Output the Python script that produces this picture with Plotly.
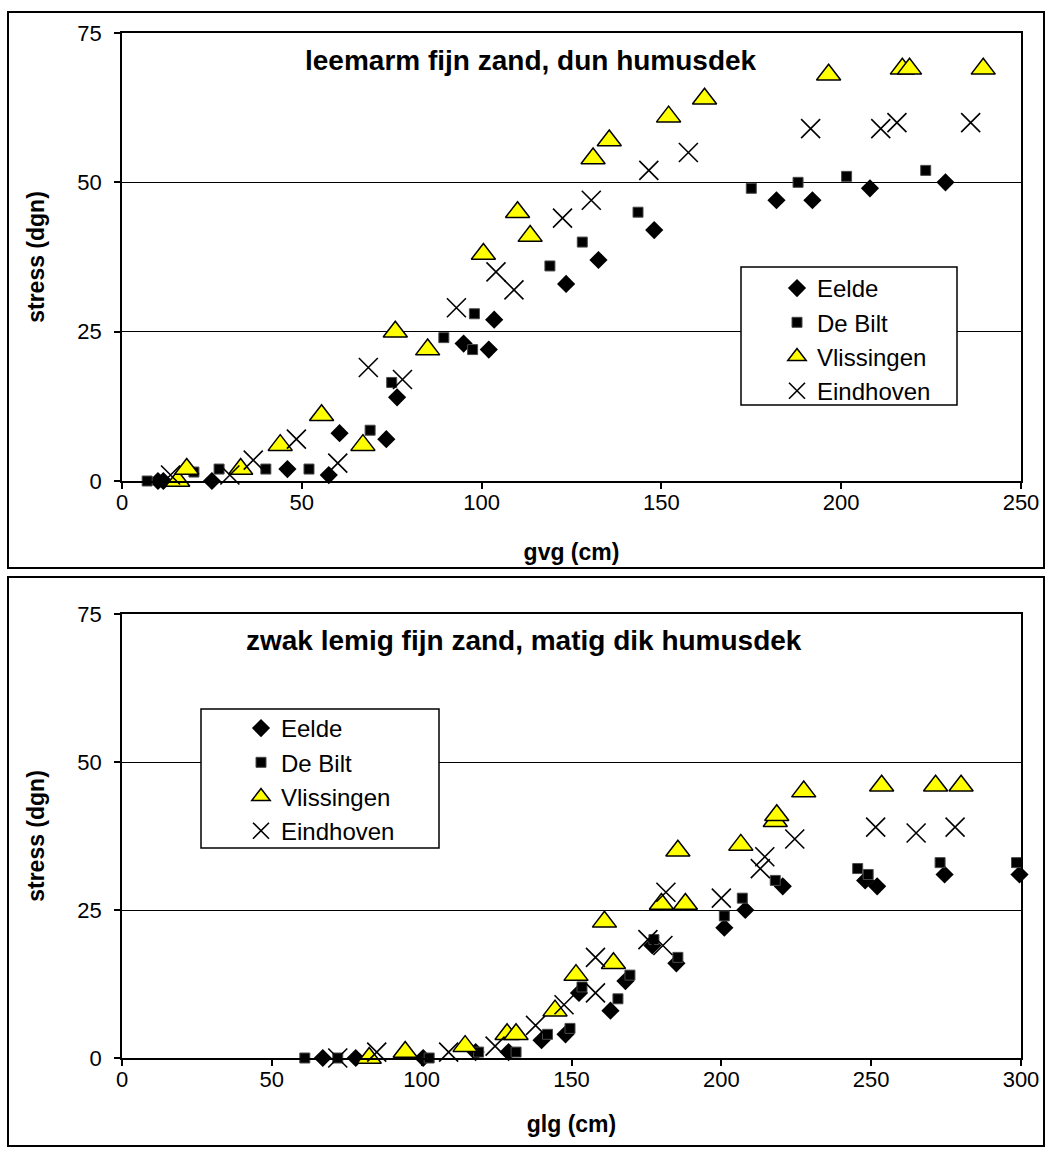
import plotly.graph_objects as go

# ---------------- data: top panel (gvg) ----------------
top_eelde_x = [10, 11.5, 25, 46, 57.5, 60.5, 73.5, 76.5, 95, 102, 103.5, 123.5, 132.5, 148, 182, 192, 208, 229]
top_eelde_y = [0, 0, 0, 2, 1, 8, 7, 14, 23, 22, 27, 33, 37, 42, 47, 47, 49, 50]

top_debilt_x = [7, 20, 27, 40, 52, 69, 75, 89.5, 97.5, 98, 119, 128, 143.5, 175, 188, 201.5, 223.5]
top_debilt_y = [0, 1.5, 2, 2, 2, 8.5, 16.5, 24, 22, 28, 36, 40, 45, 49, 50, 51, 52]

top_vliss_x = [15.5, 18, 33, 44, 55.5, 67, 76, 85, 100.5, 110, 113.5, 131, 135.5, 152, 162, 196.5, 217, 219, 239.5]
top_vliss_y = [0, 2, 2, 6, 11, 6, 25, 22, 38, 45, 41, 54, 57, 61, 64, 68, 69, 69, 69]

top_eind_x = [13.5, 30, 36.5, 48.5, 60, 68.5, 78, 93, 104, 109, 122.5, 130.5, 146.5, 157.5, 191.5, 211, 215.5, 236]
top_eind_y = [1, 1, 3.5, 7, 3, 19, 17, 29, 35, 32, 44, 47, 52, 55, 59, 59, 60, 60]

# ---------------- data: bottom panel (glg) ----------------
bot_eelde_x = [67, 78, 100.5, 118, 129, 140, 148, 152.5, 163, 168, 177, 185, 201, 208, 220.5, 248, 252, 274.5, 299.5]
bot_eelde_y = [0, 0, 0, 1, 1, 3, 4, 11, 8, 13, 19, 16, 22, 25, 29, 30, 29, 31, 31]

bot_debilt_x = [61, 72, 102.5, 119, 131.5, 142, 149.5, 153.5, 165.5, 169.5, 177.5, 185.5, 201, 207, 218, 245.5, 249, 273, 298.5]
bot_debilt_y = [0, 0, 0, 1, 1, 4, 5, 12, 10, 14, 20, 17, 24, 27, 30, 32, 31, 33, 33]

bot_vliss_x = [82.5, 94.5, 114.5, 128.5, 131.5, 144.5, 151.5, 161, 164, 180, 185.5, 188, 206.5, 218, 218.5, 227.5, 253.5, 271.5, 280]
bot_vliss_y = [0, 1, 2, 4, 4, 8, 14, 23, 16, 26, 35, 26, 36, 40, 41, 45, 46, 46, 46]

bot_eind_x = [72, 85, 109, 124.5, 138, 147.5, 158, 158, 175.5, 180.5, 181.5, 200, 213, 214.5, 224.5, 251.5, 265, 278]
bot_eind_y = [0, 1, 1, 2, 5.5, 9, 17, 11, 20, 19, 28, 27, 32, 34, 37, 39, 38, 39]

series_names = ["Eelde", "De Bilt", "Vlissingen", "Eindhoven"]
y_ticks = [0, 25, 50, 75]
top_x_ticks = [0, 50, 100, 150, 200, 250]
bot_x_ticks = [0, 50, 100, 150, 200, 250, 300]
top_title = "leemarm fijn zand, dun humusdek"
bot_title = "zwak lemig fijn zand, matig dik humusdek"
top_xlabel = "gvg (cm)"
bot_xlabel = "glg (cm)"
ylabel = "stress (dgn)"

# ---------------- styling ----------------
W, H = 1047, 1149
FONT = "Arial, Liberation Sans, sans-serif"
TICK_FS = 22
TITLE_FS = 23
HEAD_FS = 28
LEG_FS = 24


def px_x(x):
    return x / W


def px_y(y):
    return 1 - y / H


marker_styles = [
    dict(symbol="diamond", size=14, color="black", line=dict(color="black", width=0)),
    dict(symbol="square", size=10, color="black", line=dict(color="#4a4a4a", width=1)),
    dict(symbol="triangle-up", size=21, color="#ffff00", line=dict(color="black", width=1.5)),
    dict(symbol="x-thin", size=19, color="black", line=dict(color="black", width=1.6)),
]

fig = go.Figure()

top_data = [(top_eelde_x, top_eelde_y), (top_debilt_x, top_debilt_y),
            (top_vliss_x, top_vliss_y), (top_eind_x, top_eind_y)]
bot_data = [(bot_eelde_x, bot_eelde_y), (bot_debilt_x, bot_debilt_y),
            (bot_vliss_x, bot_vliss_y), (bot_eind_x, bot_eind_y)]

for name, (xs, ys), ms in zip(series_names, top_data, marker_styles):
    fig.add_trace(go.Scatter(x=xs, y=ys, mode="markers", name=name, marker=ms,
                             xaxis="x", yaxis="y", legend="legend", cliponaxis=False))
for name, (xs, ys), ms in zip(series_names, bot_data, marker_styles):
    fig.add_trace(go.Scatter(x=xs, y=ys, mode="markers", name=name, marker=ms,
                             xaxis="x2", yaxis="y2", legend="legend2", cliponaxis=False))

axis_common = dict(
    showline=True, linecolor="black", linewidth=1.5, mirror=True,
    ticks="outside", ticklen=6, tickwidth=1.5, tickcolor="black",
    tickfont=dict(family=FONT, size=TICK_FS, color="black"),
    zeroline=False, automargin=False,
)
title_font = dict(family=FONT, size=TITLE_FS, color="black", weight="bold")

x_dom = [px_x(122), px_x(1021)]

fig.update_layout(
    template="none",
    width=W, height=H, autosize=False,
    margin=dict(l=0, r=0, t=0, b=0, pad=0, autoexpand=False),
    paper_bgcolor="white", plot_bgcolor="white",
    font=dict(family=FONT, color="black"),
    xaxis=dict(domain=x_dom, anchor="y", range=[0, 250], tickvals=top_x_ticks,
               showgrid=False, ticklabelstandoff=-5,
               title=dict(text=top_xlabel, font=title_font, standoff=30),
               **axis_common),
    yaxis=dict(domain=[px_y(481), px_y(33)], anchor="x", range=[0, 75], tickvals=y_ticks,
               showgrid=True, gridcolor="black", gridwidth=1.2, ticklabelstandoff=8,
               title=dict(text=ylabel, font=title_font, standoff=26),
               **axis_common),
    xaxis2=dict(domain=x_dom, anchor="y2", range=[0, 300], tickvals=bot_x_ticks,
                showgrid=False, ticklabelstandoff=-5,
                title=dict(text=bot_xlabel, font=title_font, standoff=25),
                **axis_common),
    yaxis2=dict(domain=[px_y(1058), px_y(614)], anchor="x2", range=[0, 75], tickvals=y_ticks,
                showgrid=True, gridcolor="black", gridwidth=1.2, ticklabelstandoff=8,
                title=dict(text=ylabel, font=title_font, standoff=26),
                **axis_common),
    legend=dict(x=px_x(777), y=px_y(266), xanchor="left", yanchor="top",
                bgcolor="rgba(0,0,0,0)", borderwidth=0,
                font=dict(family=FONT, size=LEG_FS, color="black"),
                itemwidth=30, tracegroupgap=0),
    legend2=dict(x=px_x(241), y=px_y(706), xanchor="left", yanchor="top",
                 bgcolor="rgba(0,0,0,0)", borderwidth=0,
                 font=dict(family=FONT, size=LEG_FS, color="black"),
                 itemwidth=30, tracegroupgap=0),
    showlegend=True,
)

# outer chart boxes
for (y0, y1) in [(12, 568), (577, 1146)]:
    fig.add_shape(type="rect", xref="paper", yref="paper",
                  x0=px_x(8), x1=px_x(1044), y0=px_y(y1), y1=px_y(y0),
                  line=dict(color="black", width=2), fillcolor="rgba(0,0,0,0)", layer="below")

# legend frames
for (lx0, ly0, lx1, ly1) in [(741, 267, 957, 405), (201, 709, 439, 848)]:
    fig.add_shape(type="rect", xref="paper", yref="paper",
                  x0=px_x(lx0), x1=px_x(lx1), y0=px_y(ly1), y1=px_y(ly0),
                  line=dict(color="black", width=1.5), fillcolor="white", layer="above")

# panel titles
fig.add_annotation(text=f"<b>{top_title}</b>", xref="paper", yref="paper",
                   x=px_x(531), y=px_y(60), xanchor="center", yanchor="middle",
                   showarrow=False, font=dict(family=FONT, size=HEAD_FS, color="black"))
fig.add_annotation(text=f"<b>{bot_title}</b>", xref="paper", yref="paper",
                   x=px_x(524), y=px_y(640), xanchor="center", yanchor="middle",
                   showarrow=False, font=dict(family=FONT, size=HEAD_FS, color="black"))

fig.write_html("out.html", config={"displayModeBar": False},
               post_script="document.body.style.margin='0';")
